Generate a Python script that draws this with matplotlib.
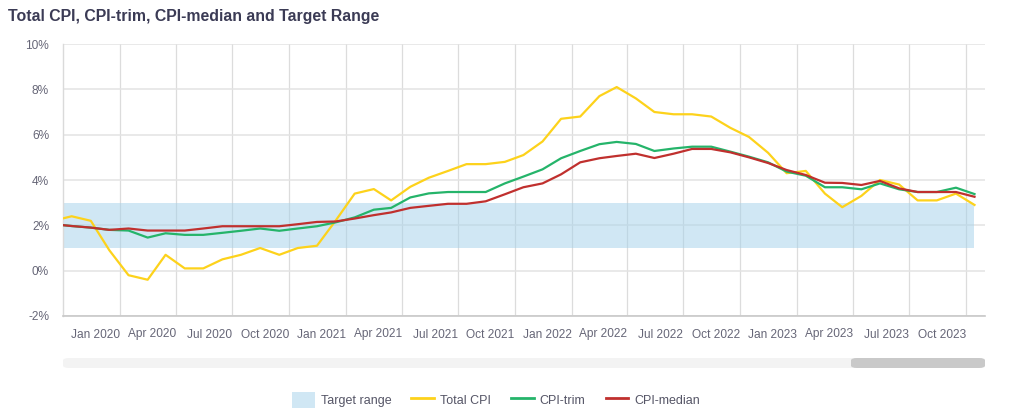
import matplotlib
matplotlib.use("Agg")
import matplotlib.pyplot as plt
import matplotlib.dates as mdates
from matplotlib.patches import Patch, FancyBboxPatch
from matplotlib.lines import Line2D
import pandas as pd

plt.rcParams['font.family'] = ['Liberation Sans', 'DejaVu Sans']

# Monthly observations (chart dates), Sep 2019 - Oct 2023
months = pd.date_range('2019-09-01', '2023-10-01', freq='MS')

total_cpi = [2.2, 2.4, 2.2, 0.9, -0.2, -0.4, 0.7, 0.1, 0.1, 0.5,
             0.7, 1.0, 0.7, 1.0, 1.1, 2.2, 3.4, 3.6, 3.1, 3.7,
             4.1, 4.4, 4.7, 4.7, 4.8, 5.1, 5.7, 6.7, 6.8, 7.7,
             8.1, 7.6, 7.0, 6.9, 6.9, 6.8, 6.3, 5.9, 5.2, 4.3,
             4.4, 3.4, 2.8, 3.3, 4.0, 3.8, 3.1, 3.1, 3.4, 2.9]

cpi_trim = [2.05, 1.97, 1.9, 1.8, 1.77, 1.46, 1.65, 1.58, 1.58, 1.67,
            1.76, 1.86, 1.76, 1.86, 1.96, 2.13, 2.35, 2.69, 2.77, 3.23,
            3.41, 3.47, 3.47, 3.47, 3.85, 4.15, 4.47, 4.96, 5.28, 5.58,
            5.68, 5.59, 5.28, 5.39, 5.47, 5.47, 5.25, 5.03, 4.78, 4.37,
            4.19, 3.68, 3.68, 3.59, 3.85, 3.59, 3.47, 3.47, 3.66, 3.38]

cpi_median = [2.05, 1.97, 1.9, 1.8, 1.86, 1.77, 1.77, 1.77, 1.86, 1.96,
              1.96, 1.96, 1.96, 2.05, 2.15, 2.17, 2.3, 2.45, 2.57, 2.77,
              2.86, 2.95, 2.95, 3.06, 3.37, 3.68, 3.85, 4.25, 4.78, 4.96,
              5.06, 5.16, 4.97, 5.16, 5.37, 5.37, 5.22, 5.0, 4.75, 4.44,
              4.22, 3.88, 3.87, 3.78, 3.96, 3.63, 3.47, 3.47, 3.47, 3.26]

target_low = 1
target_high = 3

y_ticks = [-2, 0, 2, 4, 6, 8, 10]
x_ticks = pd.date_range('2020-01-01', '2023-10-01', freq='QS')

title = "Total CPI, CPI-trim, CPI-median and Target Range"

# ---------------------------------------------------------------------------
W, H = 1024, 415
fig = plt.figure(figsize=(W / 100, H / 100), dpi=100)
ax = fig.add_axes([63 / W, 1 - 316 / H, (985 - 63) / W, (316 - 44) / H])

x = months + pd.Timedelta(days=14)

ax.fill_between(x, target_low, target_high, color='#a6d2ea', alpha=0.52,
                linewidth=0, zorder=1)
ax.plot(x, total_cpi, color='#fdd21b', lw=1.6, zorder=3)
ax.plot(x, cpi_trim, color='#25b46a', lw=1.6, zorder=4)
ax.plot(x, cpi_median, color='#c0302e', lw=1.6, zorder=5)

ax.set_xlim(pd.Timestamp('2019-10-01'), pd.Timestamp('2023-11-01'))
ax.set_ylim(-2, 10)
ax.set_yticks(y_ticks)
ax.set_yticklabels([f"{v}%" for v in y_ticks])
ax.set_xticks(x_ticks)
ax.set_xticklabels([d.strftime('%b %Y') for d in x_ticks], ha='right')
ax.tick_params(axis='both', length=0, labelsize=8.6, labelcolor='#666677')
ax.tick_params(axis='y', pad=10)
ax.tick_params(axis='x', pad=9)

ax.set_axisbelow(True)
ax.grid(axis='y', color='#e3e3e3', lw=1.1)
ax.grid(axis='x', color='#dcdcdc', lw=0.9)
for s in ['top', 'right']:
    ax.spines[s].set_visible(False)
ax.spines['bottom'].set_color('#c8c8c8')
ax.spines['left'].set_color('#dadada')
ax.spines['bottom'].set_linewidth(1.2)
ax.spines['left'].set_linewidth(1.0)

fig.text(8 / W, 1 - 17 / H, title, fontsize=11.4, fontweight='bold',
         color='#3b3b55', va='center', ha='left')

# scrollbar
track = FancyBboxPatch((63 / W, 1 - 368 / H), (985 - 63) / W, 10 / H,
                       boxstyle="round,pad=0,rounding_size=0.006",
                       transform=fig.transFigure, facecolor='#f3f3f3',
                       edgecolor='none')
thumb = FancyBboxPatch((851 / W, 1 - 368 / H), (985 - 851) / W, 10 / H,
                       boxstyle="round,pad=0,rounding_size=0.006",
                       transform=fig.transFigure, facecolor='#c9c9c9',
                       edgecolor='none')
fig.patches.extend([track, thumb])

handles = [Patch(facecolor='#a6d2ea', alpha=0.52, edgecolor='none'),
           Line2D([], [], color='#fdd21b', lw=2),
           Line2D([], [], color='#25b46a', lw=2),
           Line2D([], [], color='#c0302e', lw=2)]
labels = ['Target range', 'Total CPI', 'CPI-trim', 'CPI-median']
fig.legend(handles, labels, loc='center', bbox_to_anchor=(496 / W, 1 - 400 / H),
           ncol=4, frameon=False, fontsize=9, labelcolor='#555566',
           handlelength=1.8, handleheight=1.6, columnspacing=1.6,
           handletextpad=0.5)

fig.savefig('out.png', dpi=100)
